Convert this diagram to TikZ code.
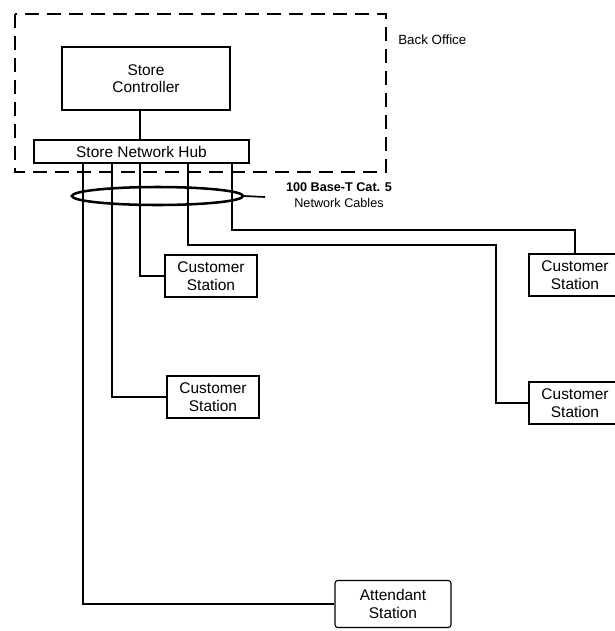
\documentclass[tikz,border=0pt]{standalone}
\usepackage{fontspec}
\setmainfont{Liberation Sans}
\usetikzlibrary{positioning, calc, shapes.geometric}

\begin{document}
\begin{tikzpicture}[
  x=0.25mm, y=-0.25mm,
  box/.style={draw, line width=0.8pt, align=center, inner sep=0pt, font=\fontsize{11}{12.5}\selectfont},
  station/.style={box, minimum width=23mm, minimum height=10.5mm},
  cable/.style={line width=0.9pt},
  office/.style={line width=2pt, dash pattern=on 3.6mm off 1.9mm},
  lbl/.style={font=\fontsize{9}{11.5}\selectfont, align=center, inner sep=0pt}
]
  \useasboundingbox (0,0) rectangle (615,631);

  % ----- Back Office -----
  \draw[office] (15,14) rectangle (386,172);
  \node[font=\fontsize{9.5}{11}\selectfont, anchor=west, inner sep=0pt] (office) at (398,40) {Back Office};

  \node[box, minimum width=42mm, minimum height=15.75mm] (ctrl) at (146,78.5) {Store\\Controller};
  \node[box, minimum width=53.75mm, minimum height=5.75mm] (hub) at (141.5,151.5) {Store Network Hub};
  \draw[cable] ([xshift=-1.5mm]ctrl.south) -- ([xshift=-1.5mm]ctrl.south |- hub.north);

  % ----- Stations -----
  \node[station] (cs1) at (575,275) {Customer\\Station};
  \node[station] (cs2) at (575,403) {Customer\\Station};
  \node[station] (cs3) at (211,276) {Customer\\Station};
  \node[station] (cs4) at (213,397) {Customer\\Station};
  \node[box, rounded corners=2pt, minimum width=29mm, minimum height=11.75mm] (att) at (393,604) {Attendant\\Station};

  % ----- Cables from the hub -----
  \coordinate (d1) at (83,0);
  \coordinate (d2) at (112,0);
  \coordinate (d3) at (140,0);
  \coordinate (b4) at (188,245);
  \coordinate (j4) at (496,245);
  \coordinate (b5) at (232,230);

  \draw[cable] (hub.south -| d1) |- (att.west);
  \draw[cable] (hub.south -| d2) |- (cs4.west);
  \draw[cable] (hub.south -| d3) |- (cs3.west);
  \draw[cable] (hub.south -| b4) -- (b4) -- (j4) |- (cs2.west);
  \draw[cable] (hub.south -| b5) -- (b5) -| (cs1.north);

  % ----- Cable bundle -----
  \node[draw, ellipse, line width=1.8pt, minimum width=42.75mm, minimum height=4.5mm, inner sep=0pt] (bundle) at (157.5,196) {};
  \node[lbl] (cat5) at (339,195) {\textbf{100 Base-T Cat. 5}\\Network Cables};
  \coordinate (tip) at (265,197);
  \draw[line width=1.2pt] (bundle.east) -- (tip);
\end{tikzpicture}
\end{document}
